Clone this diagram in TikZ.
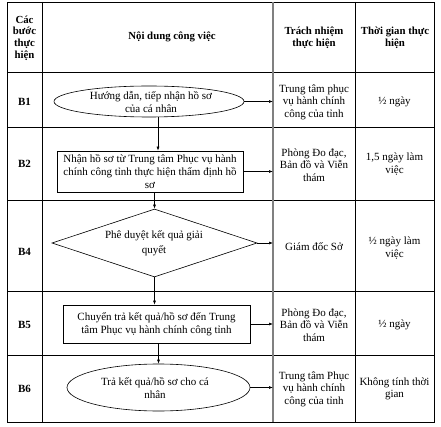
\documentclass[tikz,border=0pt]{standalone}
\usepackage{fontspec}
\setmainfont{Liberation Serif}
\usetikzlibrary{shapes.geometric, arrows.meta, positioning}

\begin{document}
\begin{tikzpicture}[
    x=1pt, y=-1pt,
    font=\fontsize{11}{13.2}\selectfont,
    grid/.style={draw, line width=0.6pt},
    hd/.style={font=\fontsize{10.8}{11.6}\selectfont\bfseries, align=center, inner sep=0pt},
    cell/.style={align=center, inner sep=0pt, font=\fontsize{11}{12.6}\selectfont},
    stepname/.style={font=\fontsize{11}{12}\selectfont\bfseries},
    oval/.style={ellipse, draw, line width=0.6pt, inner sep=0pt},
    procbox/.style={rectangle, draw, line width=0.6pt, inner sep=0pt, align=center},
    decide/.style={diamond, draw, line width=0.6pt, inner sep=0pt},
    arr/.style={draw, line width=0.6pt, -{Latex[length=4pt,width=3pt]}}
]
    \useasboundingbox (0,0) rectangle (441,427);

    % table
    \draw[grid] (7,2) rectangle (434,422);
    \foreach \y in {72,127,200,291,355}
        \draw[grid] (7,\y) -- (434,\y);
    \draw[grid] (42,2) -- (42,422);
    \draw[grid] (355,2) -- (355,422);
    \draw[grid, draw=gray, line width=1.2pt] (273,2) -- (273,422);
    \coordinate (resp) at (273,0);

    % header
    \node[hd] (hstep) at (24.5,38) {Các\\bước\\thực\\hiện};
    \node[hd] (hcontent) at (172,37) {Nội dung công việc};
    \node[hd] (hresp) at (314,38) {Trách nhiệm\\thực hiện};
    \node[hd] (htime) at (395,38) {Thời gian thực\\hiện};

    % step names
    \node[stepname] (n1) at (24.5,102) {B1};
    \node[stepname] (n2) at (24.5,164) {B2};
    \node[stepname] (n4) at (24.5,252) {B4};
    \node[stepname] (n5) at (24.5,325) {B5};
    \node[stepname] (n6) at (24.5,389) {B6};

    % flow shapes
    \node[oval, minimum width=190pt, minimum height=31pt] (s1) at (149,101.5) {};
    \node[cell, font=\fontsize{11}{13.5}\selectfont] (t1) at (151,102) {Hướng dẫn, tiếp nhận hồ sơ\\của cá nhân};
    \node[procbox, minimum width=186pt, minimum height=41pt] (s2) at (150,171.5)
        {Nhận hồ sơ từ Trung tâm Phục vụ hành\\chính công tỉnh thực hiện thẩm định hồ\\sơ};
    \node[decide, minimum width=205pt, minimum height=68pt] (s4) at (154.5,243) {};
    \node[cell, font=\fontsize{11}{15}\selectfont] (t4) at (154,243) {Phê duyệt kết quả giải\\quyết};
    \node[procbox, minimum width=187pt, minimum height=38pt] (s5) at (156.5,324)
        {Chuyển trả kết quả/hồ sơ đến Trung\\tâm Phục vụ hành chính công tỉnh};
    \node[oval, minimum width=183pt, minimum height=47pt] (s6) at (158.5,387.5) {};
    \node[cell, font=\fontsize{11}{13.5}\selectfont] (t6) at (155,388) {Trả kết quả/hồ sơ cho cá\\nhân};

    % arrows
    \draw[arr] ([xshift=9pt]s1.south) -- ([xshift=9pt]s1.south |- s2.north);
    \draw[arr] (s2.south -| s4.north) -- (s4.north);
    \draw[arr] (s4.south) -- (s4.south |- s5.north);
    \draw[arr] (s5.south -| s6.north) -- (s6.north);
    \draw[arr] (s1.east) -- (s1.east -| resp);
    \draw[arr] (s2.east) -- (s2.east -| resp);
    \draw[arr] (s4.east) -- (s4.east -| resp);
    \draw[arr] (s5.east) -- (s5.east -| resp);
    \draw[arr] (s6.east) -- (s6.east -| resp);

    % responsibility and time
    \node[cell] (r1) at (314,102) {Trung tâm phục\\vụ hành chính\\công của tỉnh};
    \node[cell] (d1) at (394.5,102) {½ ngày};
    \node[cell] (r2) at (314,165) {Phòng Đo đạc,\\Bản đồ và Viễn\\thám};
    \node[cell] (d2) at (394.5,164) {1,5 ngày làm\\việc};
    \node[cell] (r4) at (314,247) {Giám đốc Sở};
    \node[cell] (d4) at (394.5,248) {½ ngày làm\\việc};
    \node[cell] (r5) at (314,325) {Phòng Đo đạc,\\Bản đồ và Viễn\\thám};
    \node[cell] (d5) at (394.5,325) {½ ngày};
    \node[cell] (r6) at (314,389) {Trung tâm Phục\\vụ hành chính\\công của tỉnh};
    \node[cell] (d6) at (394.5,389) {Không tính thời\\gian};
\end{tikzpicture}
\end{document}
